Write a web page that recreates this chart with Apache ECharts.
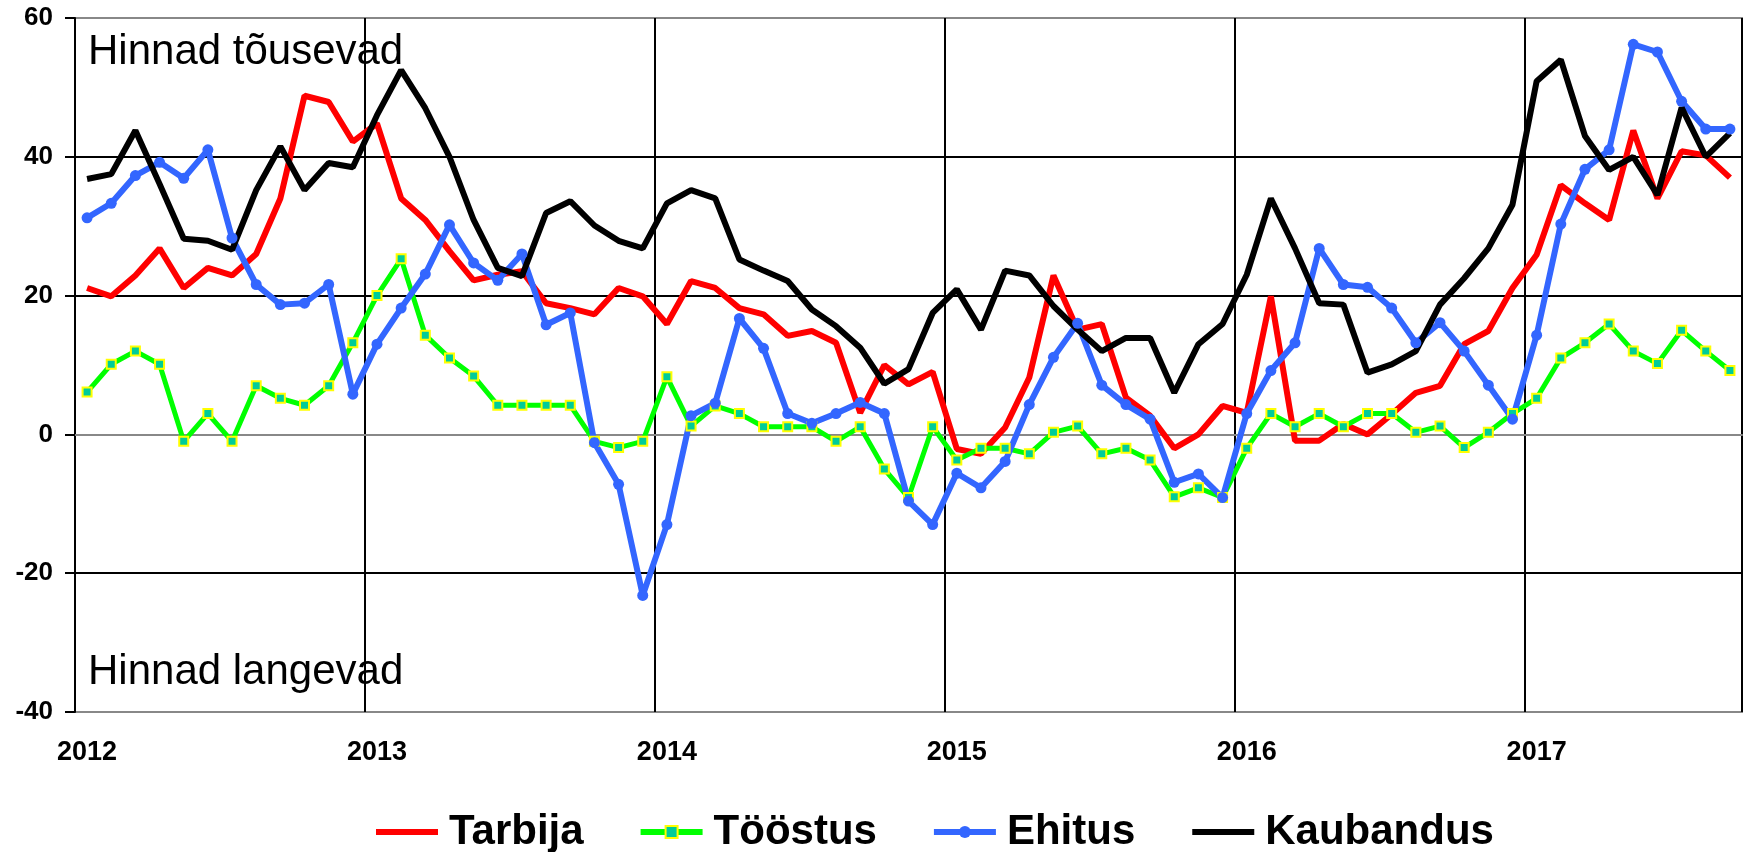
<!DOCTYPE html>
<html>
<head>
<meta charset="utf-8">
<title>Hinnaootused</title>
<script src="https://cdn.jsdelivr.net/npm/echarts@6/dist/echarts.min.js"></script>
<style>
html,body{margin:0;padding:0;background:#fff;}
#chart{width:1748px;height:852px;}
</style>
</head>
<body>
<div id="chart"></div>
<script>
// kuud 2012-01 ... 2017-09
var months = [];
for (var y = 2012; y <= 2017; y++) {
    for (var m = 1; m <= 12; m++) {
        if (y == 2017 && m > 9) break;
        months.push(y + '-' + (m < 10 ? '0' + m : m));
    }
}
var tarbija = [21.1,19.9,22.9,26.8,21.1,24.0,22.9,26.0,34.0,48.8, 47.9,42.2,44.8,34.0,30.9,26.4,22.2,23.0,23.5,18.9,
    18.2,17.3,21.1,19.9,15.9,22.1,21.1,18.2,17.3,14.2, 14.9,13.2,3.1,10.0,7.2,9.0,-2.1,-2.8,1.0,8.2,
    22.9,15.1,15.9,5.3,2.7,-2.0,0.0,4.1,3.1,19.9, -0.9,-0.9,1.5,0.0,2.9,6.0,7.0,13.0,14.9,21.1,
    25.9,35.9,33.3,30.9,43.8,34.0,40.8,40.2,37.0];
var toostus = [6.1,10.1,12.0,10.1,-1.0,3.0,-1.0,7.0,5.2,4.2, 7.0,13.2,20.0,25.3,14.3,11.0,8.4,4.2,4.2,4.2,
    4.2,-1.0,-1.9,-1.0,8.3,1.2,4.1,3.0,1.1,1.1, 1.1,-1.0,1.1,-5.0,-9.1,1.1,-3.7,-2.0,-2.0,-2.8,
    0.3,1.2,-2.8,-2.0,-3.7,-9.0,-7.7,-9.1,-2.0,3.0, 1.1,3.0,1.1,3.0,3.0,0.3,1.2,-1.9,0.3,3.0,
    5.2,11.0,13.2,15.9,12.0,10.2,15.0,12.0,9.2];
var ehitus = [31.2,33.3,37.3,39.2,36.9,41.0,28.3,21.6,18.7,18.9, 21.6,5.8,13.0,18.2,23.1,30.2,24.7,22.2,26.0,15.8,
    17.5,-1.2,-7.2,-23.2,-13.0,2.7,4.5,16.7,12.4,3.0, 1.6,3.0,4.6,3.0,-9.6,-13.0,-5.6,-7.7,-3.9,4.3,
    11.1,16.0,7.1,4.3,2.2,-6.9,-5.7,-9.1,3.0,9.2, 13.2,26.8,21.6,21.2,18.2,13.2,16.1,12.0,7.1,2.2,
    14.3,30.3,38.2,41.0,56.2,55.1,48.0,44.0,44.0];
var kaubandus = [36.8,37.5,43.8,36.1,28.2,27.9,26.6,35.2,41.5,35.2, 39.1,38.5,46.0,52.5,47.0,40.0,30.9,24.0,22.8,31.9,
    33.6,30.1,27.9,26.8,33.3,35.2,34.0,25.2,23.6,22.1, 18.0,15.6,12.5,7.3,9.4,17.5,20.9,15.1,23.6,22.9,
    18.5,15.1,12.0,13.9,13.9,6.0,13.0,15.9,23.0,34.0, 26.8,18.9,18.7,8.9,10.1,12.0,18.7,22.5,26.8,33.1,
    50.9,54.0,43.0,38.1,40.0,34.5,47.1,40.0,43.4];

var FONT = 'Liberation Sans, Arial, sans-serif';

initChart();

function yearTick(idx) {
    return idx % 12 === 0;
}

function initChart() {
    var chart = echarts.init(document.getElementById('chart'));
    var noMarker = {color: 'rgba(0,0,0,0)', borderWidth: 0};
    var option = {
        animation: false,
        grid: {
            left: 75, right: 6, top: 18, bottom: 140,
            show: true, borderColor: '#888', borderWidth: 2
        },
        legend: {
            data: [
                {name: 'Tarbija', itemStyle: noMarker},
                {name: 'Tööstus'},
                {name: 'Ehitus'},
                {name: 'Kaubandus', itemStyle: noMarker}
            ],
            left: 368, top: 806,
            itemWidth: 62, itemHeight: 15, itemGap: 54,
            lineStyle: {width: 6},
            textStyle: {fontFamily: FONT, fontSize: 42, fontWeight: 'bold', color: '#000', padding: [0, 0, 0, 6]}
        },
        xAxis: {
            type: 'category',
            data: months,
            boundaryGap: true,
            axisLine: {lineStyle: {color: '#888', width: 2}},
            axisTick: {show: false},
            axisLabel: {
                interval: function (idx) { return yearTick(idx); },
                formatter: function (v) { return v.slice(0, 4); },
                margin: 27,
                fontFamily: FONT, fontSize: 27, fontWeight: 'bold', color: '#000'
            },
            splitLine: {
                show: true,
                interval: function (idx) { return yearTick(idx); },
                lineStyle: {color: '#000', width: 2}
            }
        },
        yAxis: {
            type: 'value',
            min: -40, max: 60, interval: 20,
            axisLine: {show: true, lineStyle: {color: '#000', width: 2}},
            axisTick: {show: true, length: 10, lineStyle: {color: '#000', width: 2}},
            axisLabel: {margin: 22, fontFamily: FONT, fontSize: 26, fontWeight: 'bold', color: '#000'},
            splitLine: {lineStyle: {color: ['#888', '#000', '#000', '#000', '#000', '#888'], width: 2}}
        },
        graphic: [
            {type: 'text', left: 88, top: 31, style: {text: 'Hinnad tõusevad', font: '42px ' + FONT, fill: '#000'}},
            {type: 'text', left: 88, top: 651, style: {text: 'Hinnad langevad', font: '42px ' + FONT, fill: '#000'}}
        ],
        series: [
            {
                name: 'Tarbija', type: 'line', data: tarbija,
                symbol: 'none',
                lineStyle: {color: '#ff0000', width: 6},
                itemStyle: {color: '#ff0000'}
            },
            {
                name: 'Tööstus', type: 'line', data: toostus,
                symbol: 'rect', symbolSize: 9,
                lineStyle: {color: '#00ff00', width: 5},
                itemStyle: {color: '#00cc99', borderColor: '#ffff00', borderWidth: 2}
            },
            {
                name: 'Ehitus', type: 'line', data: ehitus,
                symbol: 'circle', symbolSize: 11,
                lineStyle: {color: '#3366ff', width: 6},
                itemStyle: {color: '#3366ff', borderWidth: 0}
            },
            {
                name: 'Kaubandus', type: 'line', data: kaubandus,
                symbol: 'none',
                lineStyle: {color: '#000', width: 6},
                itemStyle: {color: '#000'}
            }
        ]
    };
    chart.setOption(option);
}
</script>
</body>
</html>
